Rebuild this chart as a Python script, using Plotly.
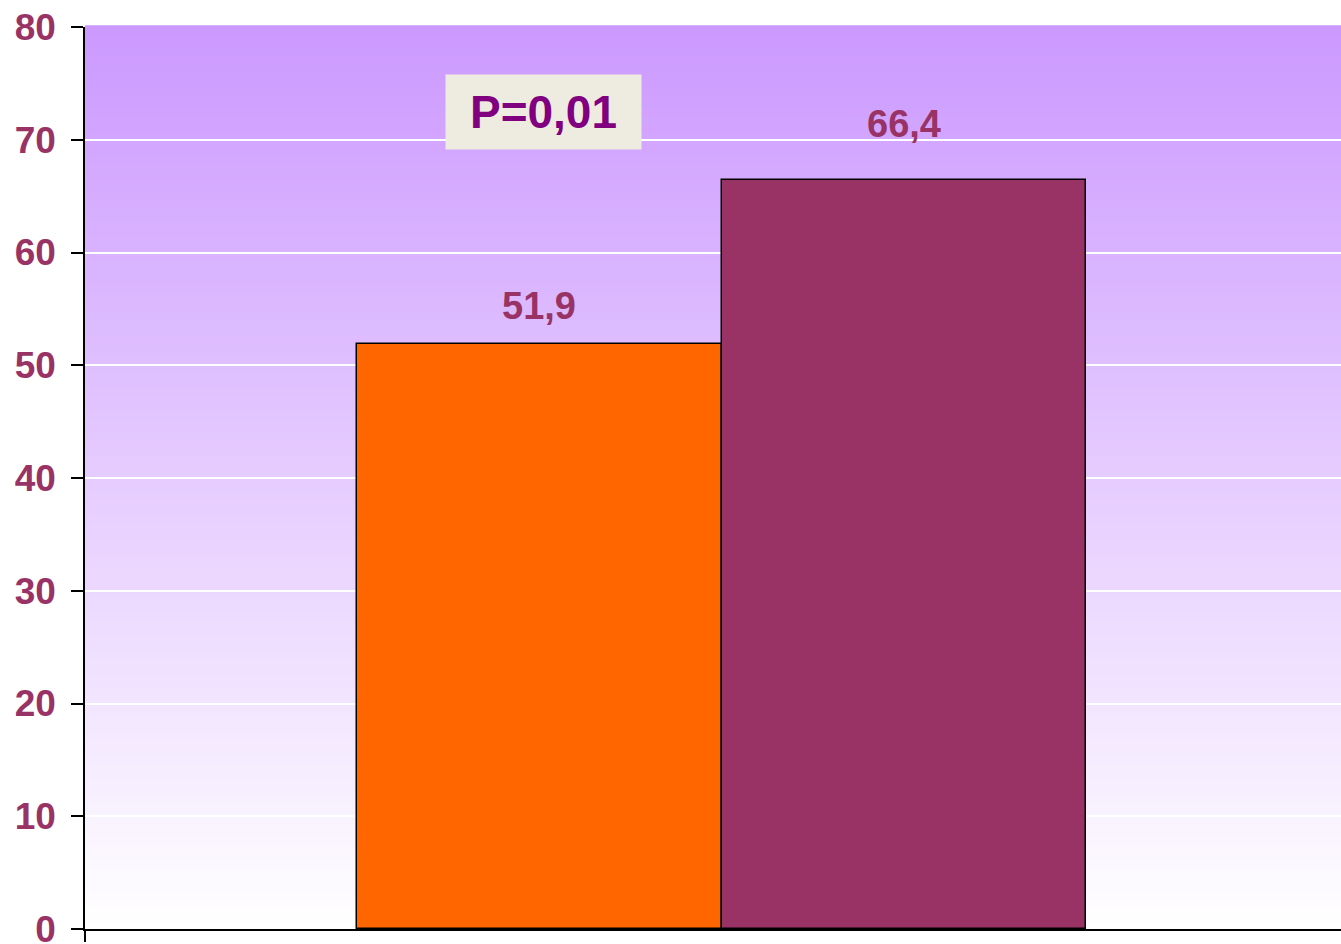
import plotly.graph_objects as go

# ---- data ----
groups = ["Группа 1", "Группа 2"]
values = [51.9, 66.4]
value_labels = ["51,9", "66,4"]
bar_colors = ["#FF6600", "#993366"]
y_tick_vals = [0, 10, 20, 30, 40, 50, 60, 70, 80]
p_text = "P=0,01"

FONT = "Liberation Sans, Arial, sans-serif"
LABEL_COLOR = "#993366"
label_shifts = [15, 33]

x_pos = list(range(len(values)))

fig = go.Figure()
fig.add_trace(go.Bar(
    x=x_pos, y=values, width=1,
    marker=dict(color=bar_colors, line=dict(color="black", width=1.5)),
    hoverinfo="skip", showlegend=False,
))

# value labels above bars
for xi, v, t, s in zip(x_pos, values, value_labels, label_shifts):
    fig.add_annotation(x=xi, y=v, text=f"<b>{t}</b>", showarrow=False,
                       yanchor="bottom", yshift=s,
                       font=dict(family=FONT, size=38, color=LABEL_COLOR))

# P-value box
fig.add_annotation(x=0, y=72.5, text=f"<b>{p_text}</b>", showarrow=False,
                   xanchor="center", yanchor="middle", xshift=4,
                   bgcolor="#EEEBE0", borderpad=11, width=173,
                   font=dict(family=FONT, size=46, color="#800080"))

# vertical gradient background (purple top -> white bottom)
n = 120
top = (204, 153, 255)
for i in range(n):
    f0, f1 = i / n, (i + 1) / n
    t = (f0 + f1) / 2
    r = round(255 + (top[0] - 255) * t)
    g = round(255 + (top[1] - 255) * t)
    b = round(255 + (top[2] - 255) * t)
    fig.add_shape(type="rect", xref="paper", yref="paper",
                  x0=0, x1=1, y0=f0, y1=f1 + 0.002,
                  fillcolor=f"rgb({r},{g},{b})", line=dict(width=0),
                  layer="below")

x_lo, x_hi = -1.247, 2.2
fig.update_layout(
    width=1341, height=944,
    margin=dict(l=85, r=0, t=27, b=15, autoexpand=False),
    paper_bgcolor="white", plot_bgcolor="rgba(0,0,0,0)",
    bargap=0,
    xaxis=dict(range=[x_lo, x_hi], showgrid=False, zeroline=False,
               automargin=False,
               showline=True, linecolor="black", linewidth=1.5,
               tickvals=[x_lo], ticks="outside", ticklen=11,
               tickcolor="black", tickwidth=1.5, showticklabels=False),
    yaxis=dict(range=[0, 80], tickvals=y_tick_vals, showgrid=True,
               automargin=False, ticklabeloverflow="allow",
               gridcolor="white", gridwidth=1.5, zeroline=False,
               showline=True, linecolor="black", linewidth=1.5,
               ticks="outside", ticklen=12, tickcolor="black", tickwidth=1.5,
               ticklabelstandoff=8,
               tickfont=dict(family=FONT, size=37, color=LABEL_COLOR,
                             weight="bold")),
    font=dict(family=FONT),
)

fig.write_html(
    "out.html",
    config={"displayModeBar": False},
    post_script="document.body.style.margin='0';"
                "document.body.style.overflow='hidden';",
)
